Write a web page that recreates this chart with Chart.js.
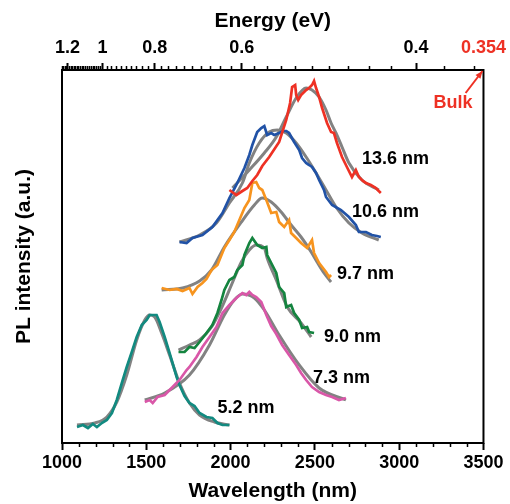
<!DOCTYPE html>
<html>
<head>
<meta charset="utf-8">
<script src="https://cdn.jsdelivr.net/npm/chart.js@4"></script>
<style>
  html, body { margin: 0; padding: 0; background: #fff; }
  #wrap { width: 510px; height: 504px; }
</style>
</head>
<body>
<div id="wrap"><canvas id="plChart" width="510" height="504"></canvas></div>
<script>
// wavelength (nm) / PL intensity (a.u.)
const wl52 = [1089, 1124, 1154, 1183, 1207, 1236, 1266, 1296, 1325, 1355, 1384, 1414, 1443, 1473, 1502, 1520, 1538, 1561, 1579, 1609, 1638, 1680, 1697, 1727, 1756, 1786, 1816, 1857, 1892, 1922, 1952, 1993];
const pl52 = [16, 18, 15, 19, 16, 20, 23, 30, 43, 60, 76, 91, 106, 118, 123, 128, 128, 128, 121, 106, 90, 66, 58, 47, 40, 37, 30, 26, 25, 20, 18, 18];
const fitWl52 = [1089, 1195, 1266, 1325, 1384, 1443, 1491, 1520, 1550, 1591, 1638, 1697, 1756, 1816, 1904, 1993];
const fitPl52 = [18, 20, 26, 41, 68, 103, 123, 128, 126, 110, 88, 60, 40, 28, 21, 18];

const wl73 = [1491, 1520, 1538, 1567, 1609, 1656, 1697, 1739, 1756, 1798, 1833, 1875, 1916, 1952, 1993, 2034, 2070, 2093, 2111, 2129, 2152, 2182, 2212, 2241, 2271, 2306, 2347, 2389, 2418, 2448, 2483, 2525, 2566, 2602, 2643, 2684];
const pl73 = [41, 43, 40, 46, 48, 56, 63, 73, 76, 86, 96, 106, 116, 130, 138, 145, 150, 148, 151, 148, 146, 141, 128, 117, 109, 98, 88, 78, 70, 63, 56, 51, 48, 46, 43, 45];
const fitWl73 = [1491, 1609, 1756, 1875, 1963, 2022, 2070, 2141, 2200, 2288, 2407, 2525, 2684];
const fitPl73 = [43, 50, 68, 98, 128, 143, 149, 145, 133, 108, 78, 55, 43];

const wl90 = [1691, 1727, 1756, 1786, 1816, 1857, 1892, 1922, 1946, 1963, 1993, 2022, 2040, 2070, 2082, 2111, 2129, 2158, 2188, 2212, 2217, 2241, 2271, 2288, 2318, 2330, 2359, 2377, 2407, 2424, 2454, 2466, 2495];
const pl90 = [91, 91, 96, 95, 101, 110, 118, 130, 143, 153, 163, 166, 173, 178, 188, 200, 205, 198, 195, 196, 188, 180, 170, 156, 150, 136, 138, 130, 123, 115, 116, 111, 110];
const fitWl90 = [1691, 1756, 1816, 1887, 1946, 2005, 2064, 2111, 2152, 2200, 2217, 2271, 2336, 2418, 2478];
const fitPl90 = [93, 98, 103, 116, 135, 158, 181, 193, 198, 195, 185, 163, 136, 120, 106];

const wl97 = [1591, 1638, 1680, 1715, 1756, 1774, 1804, 1833, 1857, 1887, 1922, 1963, 1993, 2022, 2052, 2082, 2111, 2129, 2152, 2170, 2188, 2212, 2241, 2271, 2288, 2318, 2347, 2359, 2389, 2418, 2454, 2483, 2495, 2525, 2566, 2584, 2596];
const pl97 = [155, 153, 154, 152, 155, 149, 156, 160, 164, 173, 178, 195, 203, 211, 223, 235, 243, 260, 261, 255, 253, 243, 230, 231, 221, 216, 223, 210, 205, 200, 195, 203, 190, 180, 171, 166, 168];
const fitWl97 = [1591, 1715, 1816, 1887, 1963, 2064, 2141, 2188, 2241, 2300, 2359, 2418, 2478, 2513, 2554, 2596];
const fitPl97 = [153, 155, 162, 173, 196, 221, 238, 245, 241, 231, 218, 206, 191, 181, 170, 161];

const wl106 = [1697, 1739, 1774, 1833, 1892, 1952, 1993, 2034, 2082, 2111, 2129, 2158, 2182, 2200, 2217, 2241, 2259, 2288, 2312, 2330, 2347, 2377, 2407, 2424, 2448, 2466, 2483, 2507, 2525, 2554, 2566, 2602, 2655, 2702, 2743, 2761, 2803, 2838, 2868, 2891];
const pl106 = [201, 200, 205, 208, 216, 230, 245, 258, 275, 288, 298, 311, 315, 317, 308, 310, 308, 310, 312, 312, 310, 301, 293, 285, 280, 278, 276, 270, 263, 253, 246, 238, 233, 226, 218, 211, 211, 208, 207, 206];
const fitWl106 = [1697, 1816, 1916, 1993, 2070, 2111, 2170, 2229, 2277, 2330, 2389, 2448, 2507, 2566, 2625, 2702, 2779, 2879];
const fitPl106 = [201, 208, 220, 240, 260, 280, 300, 311, 313, 310, 300, 286, 270, 253, 236, 220, 210, 203];

const wl136 = [1993, 2034, 2070, 2099, 2129, 2158, 2188, 2229, 2288, 2330, 2353, 2365, 2383, 2389, 2401, 2418, 2448, 2466, 2483, 2495, 2507, 2525, 2543, 2572, 2596, 2613, 2631, 2661, 2690, 2720, 2743, 2761, 2785, 2803, 2832, 2862, 2879, 2891];
const pl136 = [253, 248, 252, 255, 262, 268, 277, 286, 301, 323, 340, 356, 358, 348, 343, 348, 353, 355, 358, 362, 355, 346, 335, 320, 311, 310, 300, 286, 276, 266, 273, 266, 262, 260, 258, 255, 252, 250];
const fitWl136 = [2011, 2111, 2200, 2271, 2330, 2389, 2448, 2483, 2525, 2566, 2596, 2625, 2661, 2702, 2779, 2879];
const fitPl136 = [255, 273, 290, 306, 326, 345, 355, 353, 346, 333, 320, 310, 296, 280, 263, 253];

// axis ticks
const wlTicks = [1000, 1500, 2000, 2500, 3000, 3500];
const energyLabels = [1.2, 1, 0.8, 0.6, 0.4, 0.354];
const sizeLabels = ['13.6 nm', '10.6 nm', '9.7 nm', '9.0 nm', '7.3 nm', '5.2 nm'];
const sizeLabelWl = [2779, 2720, 2631, 2554, 2489, 1922];
const sizeLabelPl = [284, 231, 169, 106, 65, 35];

const HC = 1240; // eV nm
const RED = '#ee3124';

function pts(xs, ys) { return xs.map((x, i) => ({ x: x, y: ys[i] })); }

function dataSet(xs, ys, color) {
  return { data: pts(xs, ys), borderColor: color, borderWidth: 2.7, pointRadius: 0, tension: 0, order: 1, fill: false };
}
function fitSet(xs, ys) {
  return { data: pts(xs, ys), borderColor: '#828282', borderWidth: 3, pointRadius: 0, cubicInterpolationMode: 'monotone', order: 2, fill: false };
}

/* minor ticks, frame, annotations */
const decorPlugin = {
  id: 'decor',
  afterDraw(chart) {
    const { ctx, chartArea: a, scales } = chart;
    const sx = scales.x, sy = scales.y;
    ctx.save();
    ctx.strokeStyle = '#000';
    ctx.lineWidth = 1.5;
    ctx.beginPath();
    for (let w = 1100; w < 3500; w += 100) {
      if (w % 500 === 0) continue;
      const x = Math.round(sx.getPixelForValue(w)) + 0.5;
      ctx.moveTo(x, a.bottom);
      ctx.lineTo(x, a.bottom + 4);
    }
    for (let k = 124; k >= 36; k -= (k > 100 ? 1 : 2)) {
      const e = k / 100;
      if (energyLabels.includes(e)) continue;
      const x = Math.round(sx.getPixelForValue(HC / e)) + 0.5;
      ctx.moveTo(x, a.top);
      ctx.lineTo(x, a.top - 4);
    }
    ctx.stroke();

    ctx.lineWidth = 2;
    ctx.strokeRect(a.left, a.top, a.right - a.left, a.bottom - a.top);

    ctx.font = 'bold 18px "Liberation Sans", Arial, sans-serif';
    ctx.fillStyle = '#000';
    ctx.textBaseline = 'middle';
    ctx.textAlign = 'left';
    sizeLabels.forEach((t, i) => {
      ctx.fillText(t, sx.getPixelForValue(sizeLabelWl[i]), sy.getPixelForValue(sizeLabelPl[i]));
    });

    // bulk marker
    ctx.fillStyle = RED;
    ctx.fillText('Bulk', sx.getPixelForValue(3204), sy.getPixelForValue(340));
    const x0 = sx.getPixelForValue(3394), y0 = sy.getPixelForValue(350);
    const x1 = sx.getPixelForValue(3494), y1 = sy.getPixelForValue(372);
    ctx.strokeStyle = RED;
    ctx.lineWidth = 2;
    ctx.beginPath();
    ctx.moveTo(x0, y0);
    ctx.lineTo(x1, y1);
    ctx.stroke();
    const ang = Math.atan2(y1 - y0, x1 - x0);
    ctx.beginPath();
    ctx.moveTo(x1, y1);
    ctx.lineTo(x1 - 8 * Math.cos(ang - 0.4), y1 - 8 * Math.sin(ang - 0.4));
    ctx.lineTo(x1 - 8 * Math.cos(ang + 0.4), y1 - 8 * Math.sin(ang + 0.4));
    ctx.closePath();
    ctx.fill();
    ctx.restore();
  }
};

Chart.defaults.font.family = '"Liberation Sans", Arial, sans-serif';
Chart.defaults.color = '#000';

new Chart(document.getElementById('plChart'), {
  type: 'line',
  data: {
    datasets: [
      dataSet(wl136, pl136, RED),
      dataSet(wl106, pl106, '#2152a6'),
      dataSet(wl97, pl97, '#f7941e'),
      dataSet(wl90, pl90, '#14843f'),
      dataSet(wl73, pl73, '#d957a8'),
      dataSet(wl52, pl52, '#128a80'),
      fitSet(fitWl136, fitPl136),
      fitSet(fitWl106, fitPl106),
      fitSet(fitWl97, fitPl97),
      fitSet(fitWl90, fitPl90),
      fitSet(fitWl73, fitPl73),
      fitSet(fitWl52, fitPl52)
    ]
  },
  options: {
    responsive: false,
    animation: false,
    layout: { padding: { right: 25 } },
    plugins: { legend: { display: false }, tooltip: { enabled: false } },
    scales: {
      x: {
        type: 'linear', position: 'bottom', min: 1000, max: 3500,
        afterBuildTicks: s => { s.ticks = wlTicks.map(v => ({ value: v })); },
        ticks: {
          font: { size: 18, weight: 'bold' }, padding: 2, maxRotation: 0, autoSkip: false,
          callback: v => String(v)
        },
        grid: { drawOnChartArea: false, tickLength: 7, tickColor: '#000', tickWidth: 2 },
        border: { display: false },
        title: { display: true, text: 'Wavelength (nm)', font: { size: 21, weight: 'bold' }, padding: { top: 0, bottom: 0 } },
        afterFit: s => { s.height = 61; }
      },
      x2: {
        type: 'linear', position: 'top', min: 1000, max: 3500,
        afterBuildTicks: s => { s.ticks = energyLabels.map(e => ({ value: Math.min(3500, HC / e) })); },
        ticks: {
          font: { size: 18, weight: 'bold' }, padding: 4, maxRotation: 0, autoSkip: false,
          color: c => (c.index === energyLabels.length - 1 ? RED : '#000'),
          callback: (v, i) => String(energyLabels[i])
        },
        grid: {
          drawOnChartArea: false, tickLength: 7, tickWidth: 2,
          tickColor: c => (c.index === energyLabels.length - 1 ? 'rgba(0,0,0,0)' : '#000')
        },
        border: { display: false },
        title: { display: true, text: 'Energy (eV)', font: { size: 21, weight: 'bold' }, padding: { top: 9, bottom: 0 } },
        afterFit: s => { s.height = 70; }
      },
      y: {
        type: 'linear', min: 0, max: 373,
        ticks: { display: false },
        grid: { display: false },
        border: { display: false },
        title: { display: true, text: 'PL intensity (a.u.)', font: { size: 21, weight: 'bold' }, padding: { top: 12, bottom: 0 } },
        afterFit: s => { s.width = 62; }
      }
    }
  },
  plugins: [decorPlugin]
});
</script>
</body>
</html>
